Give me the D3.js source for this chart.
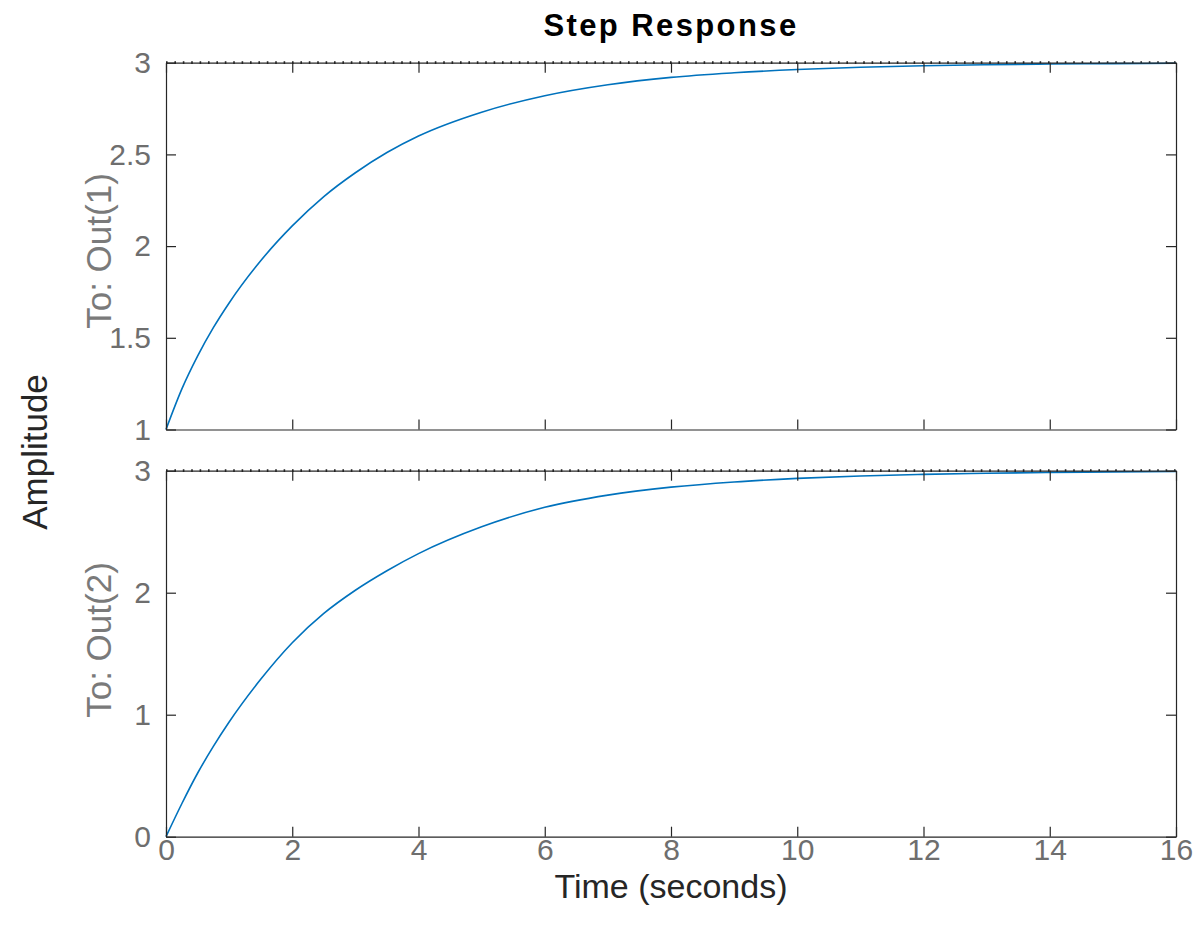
<!DOCTYPE html>
<html>
<head>
<meta charset="utf-8">
<script src="https://cdn.jsdelivr.net/npm/d3@7"></script>
<style>
  body { margin: 0; background: #fff; }
  text { font-family: "Liberation Sans", Arial, sans-serif; }
</style>
</head>
<body>
<div id="chart"></div>
<script>
// data
var time = [0, 0.25, 0.5, 0.75, 1, 1.5, 2, 2.5, 3, 3.5, 4, 5, 6, 7, 8, 9, 10, 11, 12, 13, 14, 15, 16]
var out1 = [1.00, 1.22, 1.40, 1.555, 1.69, 1.92, 2.11, 2.27, 2.40, 2.51, 2.60, 2.73, 2.82, 2.88, 2.92, 2.945, 2.963, 2.975, 2.983, 2.989, 2.993, 2.995, 2.997]
var out2 = [0.00, 0.27, 0.52, 0.74, 0.94, 1.29, 1.59, 1.83, 2.02, 2.18, 2.32, 2.54, 2.70, 2.80, 2.865, 2.908, 2.937, 2.957, 2.970, 2.979, 2.986, 2.990, 2.994]
var finalValue = [3, 3]
var xTicks = [0, 2, 4, 6, 8, 10, 12, 14, 16]
var yTicks1 = [1, 1.5, 2, 2.5, 3]
var yTicks2 = [0, 1, 2, 3]
var outLabels = ['To: Out(1)', 'To: Out(2)']

var width = 1204
var height = 939
var left = 166, right = 1176
var tickLen = 10

const svg = d3.select('#chart')
    .append('svg')
    .attr('width', width)
    .attr('height', height)

var x = d3.scaleLinear().domain([0, 16]).range([left, right])

var panels = [
    { y: d3.scaleLinear().domain([1, 3]).range([429.5, 62.7]), ticks: yTicks1, values: out1, labelY: 251 },
    { y: d3.scaleLinear().domain([0, 3]).range([836.7, 470.7]), ticks: yTicks2, values: out2, labelY: 640 }
]

function styleAxis(sel) {
    sel.select('.domain').attr('stroke', '#262626').attr('stroke-width', 1.2)
    sel.selectAll('.tick line').attr('stroke', '#262626').attr('stroke-width', 1.2)
    sel.selectAll('.tick text')
        .attr('fill', '#6e6e6e')
        .attr('font-size', 30)
        .attr('font-family', '"Liberation Sans", Arial, sans-serif')
}

panels.forEach(function (p, i) {
    var top = p.y.range()[1], bottom = p.y.range()[0]
    var g = svg.append('g')

    // dotted steady state line
    g.append('line')
        .attr('x1', x(0)).attr('x2', x(16))
        .attr('y1', p.y(finalValue[i])).attr('y2', p.y(finalValue[i]))
        .attr('stroke', '#222')
        .attr('stroke-width', 2.8)
        .attr('stroke-dasharray', '1.6,6.8')

    // response curve
    var line = d3.line()
        .x(function (d, j) { return x(time[j]) })
        .y(function (d) { return p.y(d) })
        .curve(d3.curveMonotoneX)

    g.append('path')
        .datum(p.values)
        .attr('d', line)
        .attr('fill', 'none')
        .attr('stroke', '#0072BD')
        .attr('stroke-width', 1.6)

    // box and ticks on all sides
    var xb = g.append('g')
        .attr('transform', `translate(0,${bottom})`)
        .call(d3.axisBottom(x).tickValues(xTicks).tickSizeInner(-tickLen).tickSizeOuter(0)
            .tickFormat(i == 1 ? d3.format('d') : ''))
        .call(styleAxis)
    xb.selectAll('.tick text').attr('y', 2)

    g.append('g')
        .attr('transform', `translate(0,${top})`)
        .call(d3.axisTop(x).tickValues(xTicks).tickSizeInner(-tickLen).tickSizeOuter(0).tickFormat(''))
        .call(styleAxis)

    var yl = g.append('g')
        .attr('transform', `translate(${left},0)`)
        .call(d3.axisLeft(p.y).tickValues(p.ticks).tickSizeInner(-tickLen).tickSizeOuter(0)
            .tickFormat(d3.format('~g')))
        .call(styleAxis)
    yl.selectAll('.tick text').attr('x', -15)

    g.append('g')
        .attr('transform', `translate(${right},0)`)
        .call(d3.axisRight(p.y).tickValues(p.ticks).tickSizeInner(-tickLen).tickSizeOuter(0).tickFormat(''))
        .call(styleAxis)

    g.append('text')
        .attr('transform', `translate(111,${p.labelY}) rotate(-90)`)
        .attr('text-anchor', 'middle')
        .attr('fill', '#7a7a7a')
        .attr('font-size', 35)
        .text(outLabels[i])
})

svg.append('text')
    .attr('x', (left + right) / 2)
    .attr('y', 36)
    .attr('text-anchor', 'middle')
    .attr('font-weight', 'bold')
    .attr('font-size', 31)
    .attr('letter-spacing', 2.4)
    .attr('fill', '#000')
    .text('Step Response')

svg.append('text')
    .attr('x', (left + right) / 2)
    .attr('y', 898)
    .attr('text-anchor', 'middle')
    .attr('font-size', 34)
    .attr('fill', '#262626')
    .text('Time (seconds)')

svg.append('text')
    .attr('transform', `translate(47,452) rotate(-90)`)
    .attr('text-anchor', 'middle')
    .attr('font-size', 35)
    .attr('fill', '#262626')
    .text('Amplitude')
</script>
</body>
</html>
